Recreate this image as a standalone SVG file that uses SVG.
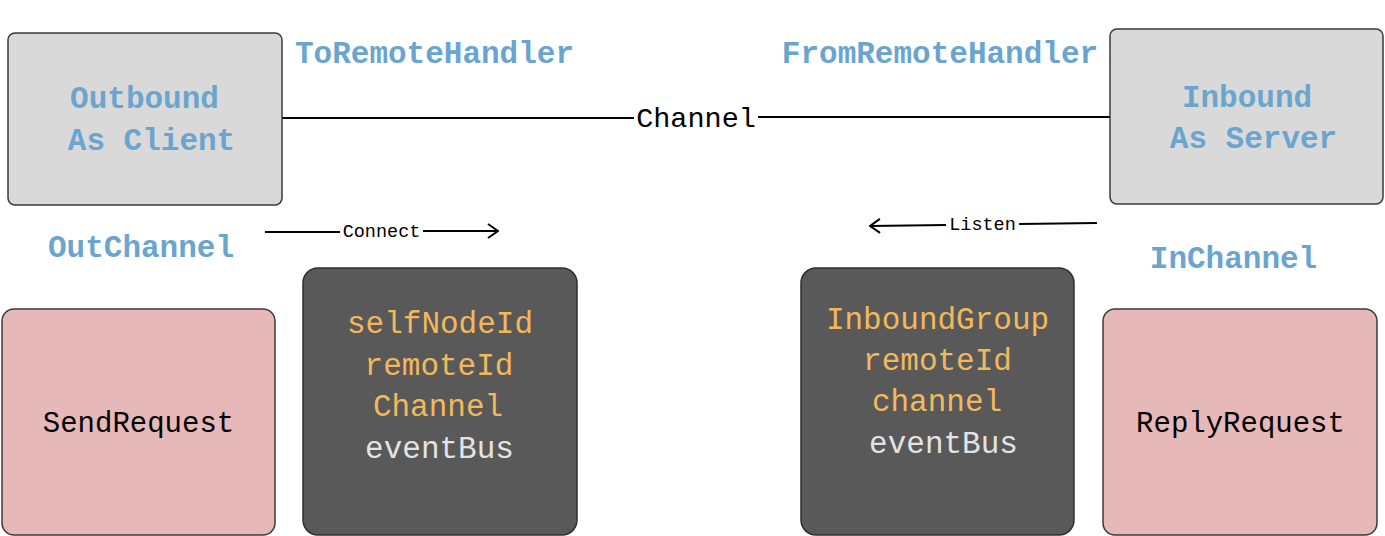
<svg xmlns="http://www.w3.org/2000/svg" width="1385" height="536" viewBox="0 0 1385 536">
<defs>
<style>
text{font-family:"Liberation Mono","DejaVu Sans Mono",monospace;text-anchor:middle}
.blue{fill:#6aa5cf;font-size:31px;font-weight:bold}
.grey{fill:#d9d9d9;stroke:#3a3a3a;stroke-width:1.5}
.dark{fill:#595959;stroke:#2e2e2e;stroke-width:1.5}
.pink{fill:#e6b8b7;stroke:#3a3a3a;stroke-width:1.5}
.org{fill:#f2b95c;font-size:31px}
.lt{fill:#e3e3e3;font-size:31px}
.blk{fill:#000;font-size:29px}
.sm{fill:#000;font-size:18.5px}
.ln{stroke:#000;stroke-width:2;fill:none}
</style>
<marker id="open" viewBox="0 0 12 16" refX="11" refY="8" markerWidth="12" markerHeight="16" markerUnits="userSpaceOnUse" orient="auto">
<path d="M1,1 L11,8 L1,15" fill="none" stroke="#000" stroke-width="2"/>
</marker>
</defs>
<rect width="1385" height="536" fill="#fff"/>
<g id="connectors">
<line class="ln" x1="282" y1="118" x2="634" y2="118"/>
<line class="ln" x1="758" y1="117" x2="1110" y2="117"/>
<text class="blk" x="696" y="127" style="font-size:28.5px">Channel</text>
<line class="ln" x1="265" y1="232" x2="340" y2="232"/>
<line class="ln" x1="423" y1="231" x2="498" y2="231" marker-end="url(#open)"/>
<text class="sm" x="381.5" y="237">Connect</text>
<line class="ln" x1="1097" y1="223" x2="1019" y2="224"/>
<line class="ln" x1="946" y1="225" x2="870" y2="226" marker-end="url(#open)"/>
<text class="sm" x="982.5" y="230">Listen</text>
</g>
<g id="outbound">
<rect class="grey" x="8" y="33" width="274" height="172" rx="7"/>
<text class="blue" x="144.5" y="108">Outbound</text>
<text class="blue" x="151.5" y="150">As Client</text>
</g>
<g id="inbound">
<rect class="grey" x="1110" y="29" width="273" height="175" rx="7"/>
<text class="blue" x="1247" y="107">Inbound</text>
<text class="blue" x="1253.5" y="148">As Server</text>
</g>
<g id="label-toremote"><text class="blue" x="434.5" y="63">ToRemoteHandler</text></g>
<g id="label-fromremote"><text class="blue" x="940" y="63">FromRemoteHandler</text></g>
<g id="label-outchannel"><text class="blue" x="141" y="257">OutChannel</text></g>
<g id="label-inchannel"><text class="blue" x="1233.5" y="268">InChannel</text></g>
<g id="outchannel-box">
<rect class="dark" x="303" y="268" width="274" height="267" rx="15"/>
<text class="org" x="440" y="333">selfNodeId</text>
<text class="org" x="439" y="375">remoteId</text>
<text class="org" x="438" y="416">Channel</text>
<text class="lt" x="439.5" y="458">eventBus</text>
</g>
<g id="inchannel-box">
<rect class="dark" x="801" y="268" width="273" height="267" rx="15"/>
<text class="org" x="937.5" y="329">InboundGroup</text>
<text class="org" x="937.5" y="370">remoteId</text>
<text class="org" x="937" y="411">channel</text>
<text class="lt" x="943.5" y="453">eventBus</text>
</g>
<g id="sendrequest">
<rect class="pink" x="2" y="309" width="273" height="226" rx="12"/>
<text class="blk" x="138.5" y="432">SendRequest</text>
</g>
<g id="replyrequest">
<rect class="pink" x="1103" y="309" width="274" height="226" rx="12"/>
<text class="blk" x="1240.5" y="432">ReplyRequest</text>
</g>
</svg>
